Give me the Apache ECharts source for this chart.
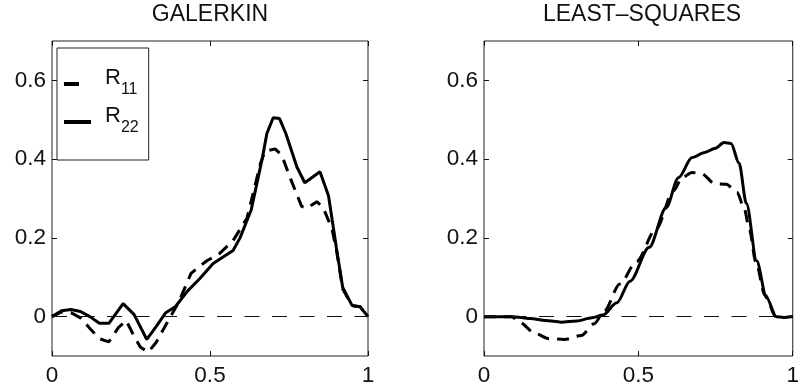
<!DOCTYPE html>
<html>
<head>
<meta charset="utf-8">
<script src="https://cdn.jsdelivr.net/npm/echarts@6/dist/echarts.min.js"></script>
<style>
html,body{margin:0;padding:0;background:#fff;}
#chart{width:802px;height:392px;}
</style>
</head>
<body>
<div id="chart"></div>
<script>
// ---- data ----
const titles = ['GALERKIN', 'LEAST\u2013SQUARES'];
const seriesNames = ['R11', 'R22'];
const xTicks = [0, 0.5, 1];
const yTicks = [0, 0.2, 0.4, 0.6];
const xTickLabels = ['0', '0.5', '1'];
const yTickLabels = ['0', '0.2', '0.4', '0.6'];

const galX11 = [0, 0.03, 0.06, 0.09, 0.12, 0.15, 0.18, 0.21, 0.235, 0.26, 0.28, 0.305, 0.33, 0.35, 0.375, 0.40, 0.44, 0.49, 0.53, 0.573, 0.617, 0.66, 0.674, 0.706, 0.727, 0.753, 0.79, 0.806, 0.838, 0.858, 0.886, 0.90, 0.92, 0.95, 0.975, 1.0];
const galR11 = [0, 0.012, 0.01, -0.003, -0.03, -0.056, -0.064, -0.028, -0.01, -0.05, -0.078, -0.09, -0.065, -0.036, 0.0, 0.035, 0.11, 0.142, 0.16, 0.193, 0.25, 0.39, 0.42, 0.426, 0.41, 0.354, 0.28, 0.275, 0.292, 0.277, 0.223, 0.17, 0.07, 0.028, 0.025, 0];

const galX22 = [0, 0.03, 0.06, 0.09, 0.12, 0.15, 0.18, 0.225, 0.26, 0.30, 0.33, 0.36, 0.39, 0.43, 0.468, 0.51, 0.573, 0.595, 0.63, 0.665, 0.68, 0.70, 0.72, 0.74, 0.775, 0.80, 0.848, 0.875, 0.90, 0.92, 0.95, 0.975, 1.0];
const galR22 = [0, 0.015, 0.018, 0.013, 0.0, -0.017, -0.017, 0.033, 0.005, -0.058, -0.025, 0.01, 0.025, 0.066, 0.097, 0.135, 0.168, 0.2, 0.27, 0.40, 0.465, 0.505, 0.503, 0.465, 0.38, 0.34, 0.368, 0.307, 0.175, 0.074, 0.028, 0.025, 0];

const lsX11 = [0, 0.05, 0.09, 0.114, 0.167, 0.21, 0.26, 0.315, 0.357, 0.39, 0.44, 0.494, 0.557, 0.614, 0.642, 0.674, 0.705, 0.747, 0.785, 0.82, 0.842, 0.86, 0.88, 0.91, 0.945, 0.97, 1.0];
const lsR11 = [0, 0, 0, -0.014, -0.043, -0.056, -0.058, -0.048, -0.018, 0.015, 0.083, 0.14, 0.222, 0.32, 0.353, 0.366, 0.363, 0.338, 0.336, 0.315, 0.277, 0.22, 0.14, 0.055, 0.0, -0.002, 0];

const lsX22 = [0, 0.05, 0.093, 0.15, 0.2, 0.25, 0.30, 0.35, 0.385, 0.43, 0.473, 0.535, 0.59, 0.63, 0.674, 0.715, 0.747, 0.778, 0.80, 0.826, 0.85, 0.883, 0.915, 0.947, 0.97, 1.0];
const lsR22 = [0, 0, 0, -0.005, -0.01, -0.014, -0.011, -0.003, 0.004, 0.035, 0.09, 0.176, 0.277, 0.353, 0.404, 0.417, 0.427, 0.442, 0.44, 0.39, 0.287, 0.142, 0.048, 0.0, -0.002, 0];

// ---- chart ----
const FONT = "'Liberation Sans', Arial, Helvetica, sans-serif";
const pairs = (xs, ys) => xs.map((x, i) => [x, ys[i]]);
const grids = [
  {left: 52, top: 41, width: 316, height: 315},
  {left: 484, top: 41, width: 316, height: 315}
];

const tickStyle = {color: '#111', width: 1};
const xAxes = [], yAxes = [];
grids.forEach((g, gi) => {
  xAxes.push({
    type: 'value', gridIndex: gi, min: 0, max: 1, position: 'bottom',
    axisLine: {show: false, onZero: false}, splitLine: {show: false},
    axisTick: {show: true, inside: true, length: 5, customValues: xTicks, lineStyle: tickStyle},
    axisLabel: {show: true, customValues: xTicks, margin: 8, color: '#111', fontFamily: FONT, fontSize: 22.5,
      formatter: v => xTickLabels[xTicks.indexOf(v)] ?? ''}
  });
  xAxes.push({
    type: 'value', gridIndex: gi, min: 0, max: 1, position: 'top',
    axisLine: {show: false, onZero: false}, splitLine: {show: false}, axisLabel: {show: false},
    axisTick: {show: true, inside: true, length: 5, customValues: xTicks, lineStyle: tickStyle}
  });
  yAxes.push({
    type: 'value', gridIndex: gi, min: -0.1, max: 0.7, position: 'left',
    axisLine: {show: false, onZero: false}, splitLine: {show: false},
    axisTick: {show: true, inside: true, length: 5, customValues: yTicks, lineStyle: tickStyle},
    axisLabel: {show: true, customValues: yTicks, margin: 6, color: '#111', fontFamily: FONT, fontSize: 22.5,
      formatter: v => yTickLabels[yTicks.indexOf(v)] ?? ''}
  });
  yAxes.push({
    type: 'value', gridIndex: gi, min: -0.1, max: 0.7, position: 'right',
    axisLine: {show: false, onZero: false}, splitLine: {show: false}, axisLabel: {show: false},
    axisTick: {show: true, inside: true, length: 5, customValues: yTicks, lineStyle: tickStyle}
  });
});

const dashCurve = [12, 8];
function curve(name, gi, data, dashed, smooth) {
  return {
    name: name, type: 'line', xAxisIndex: gi * 2, yAxisIndex: gi * 2,
    data: data, showSymbol: false, symbol: 'none', smooth: smooth, smoothMonotone: 'x',
    lineStyle: {color: '#000', width: 3, type: dashed ? dashCurve : 'solid', cap: 'butt'},
    itemStyle: {color: '#000'}, silent: true, animation: false, z: 3
  };
}
function zeroLine(gi) {
  return {
    type: 'line', xAxisIndex: gi * 2, yAxisIndex: gi * 2, data: [], silent: true, animation: false,
    markLine: {silent: true, symbol: 'none', label: {show: false}, animation: false,
      lineStyle: {color: '#111', width: 1.2, type: [15, 12.5]}, data: [{yAxis: 0}]}
  };
}

const option = {
  backgroundColor: '#fff',
  animation: false,
  title: titles.map((t, i) => ({
    text: t, left: grids[i].left + grids[i].width / 2, top: 3, padding: 0, textAlign: 'center',
    textStyle: {fontFamily: FONT, fontSize: 23, fontWeight: 'normal', color: '#111'}
  })),
  grid: grids.map(g => Object.assign({show: true, borderColor: '#222', borderWidth: 1, backgroundColor: 'transparent'}, g)),
  xAxis: xAxes,
  yAxis: yAxes,
  legend: {
    orient: 'vertical', left: 57, top: 48,
    padding: [19, 10, 24, 5],
    itemWidth: 27, itemHeight: 14, itemGap: 7,
    borderColor: '#222', borderWidth: 1, borderRadius: 0,
    backgroundColor: '#fff',
    selectedMode: false,
    itemStyle: {opacity: 0, borderWidth: 0},
    data: [
      {name: seriesNames[0], lineStyle: {type: [15, 20], width: 4, color: '#000'}, itemStyle: {opacity: 0, borderWidth: 0}},
      {name: seriesNames[1], lineStyle: {type: 'solid', width: 4, color: '#000'}, itemStyle: {opacity: 0, borderWidth: 0}}
    ],
    formatter: n => '{r|R}{s|' + n.slice(1) + '}',
    textStyle: {
      fontFamily: FONT, color: '#111', padding: [0, 0, 0, 9],
      rich: {
        r: {fontFamily: FONT, fontSize: 22, color: '#111', padding: [0, 0, 12, 0]},
        s: {fontFamily: FONT, fontSize: 16, color: '#111', padding: [12, 0, 0, 0]}
      }
    }
  },
  series: [
    zeroLine(0), zeroLine(1),
    curve(seriesNames[0], 0, pairs(galX11, galR11), true, false),
    curve(seriesNames[1], 0, pairs(galX22, galR22), false, false),
    curve(seriesNames[0], 1, pairs(lsX11, lsR11), true, 0.3),
    curve(seriesNames[1], 1, pairs(lsX22, lsR22), false, 0.3)
  ]
};

const chart = echarts.init(document.getElementById('chart'), null, {renderer: 'canvas'});
chart.setOption(option);
</script>
</body>
</html>
